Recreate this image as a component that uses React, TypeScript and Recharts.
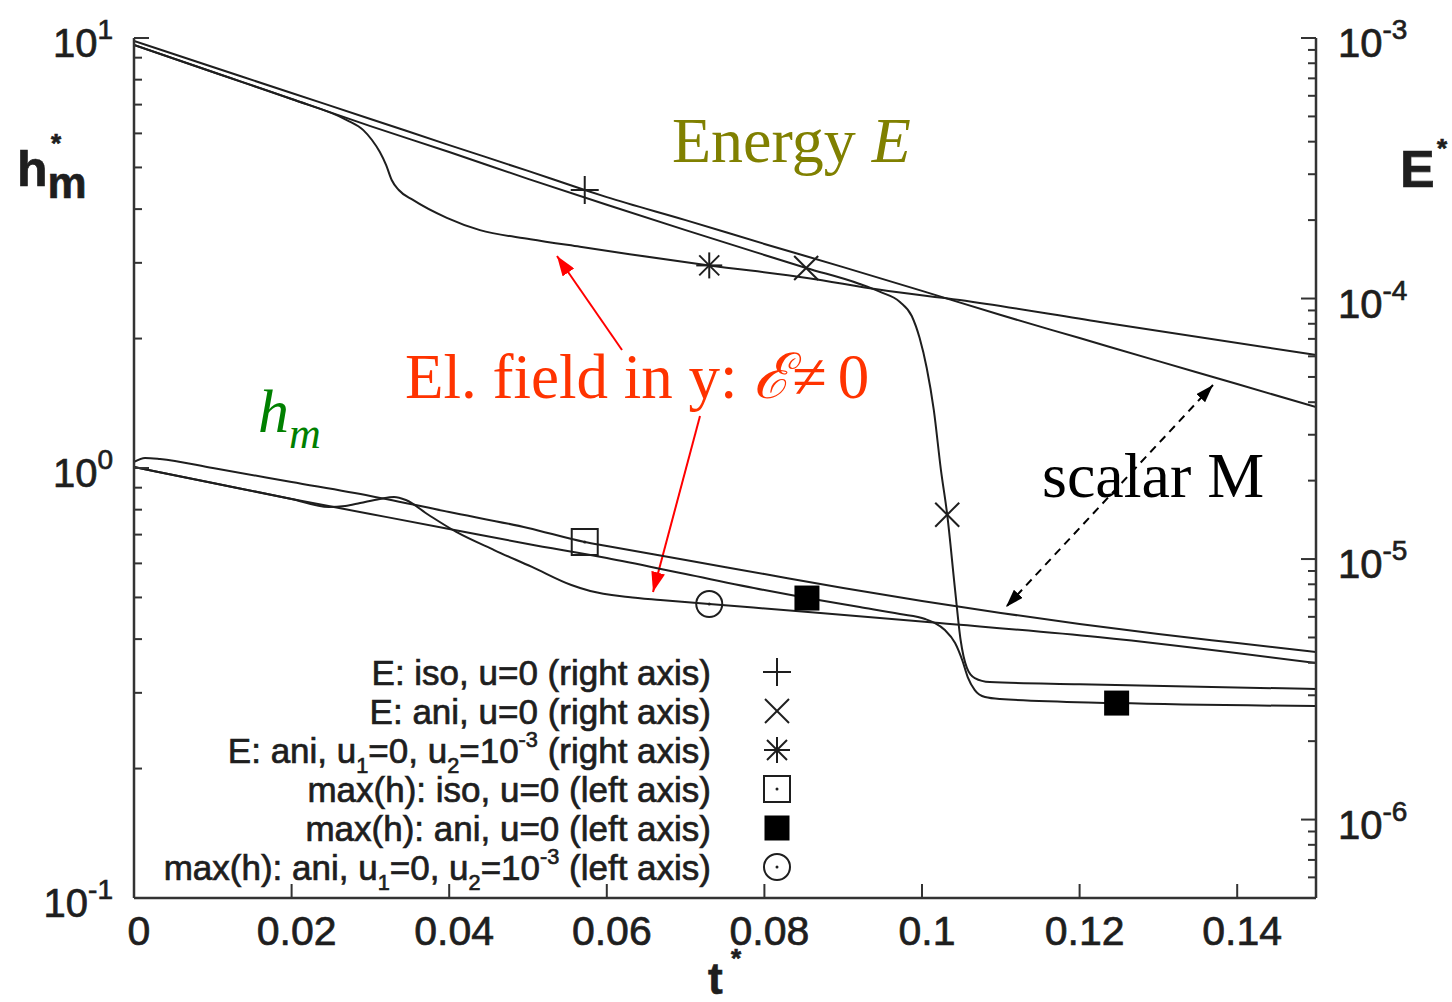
import React from 'react';
import { LineChart, Line, XAxis, YAxis, Customized } from 'recharts';

const W = 1452;
const H = 1002;
const SANS = 'Liberation Sans, Arial, Helvetica, sans-serif';
const SERIF = 'Liberation Serif, Times New Roman, serif';
const INK = '#1e1e1e';

// ---------- data (t*, value) ----------
// Energy, right axis
const tEIso = [0, 0.01, 0.02, 0.03, 0.04, 0.05, 0.0572, 0.06, 0.07, 0.08, 0.09, 0.1, 0.11, 0.12, 0.13, 0.14, 0.15];
const eIso = [9.74e-4, 7.74e-4, 6.15e-4, 4.89e-4, 3.88e-4, 3.09e-4, 2.61e-4, 2.45e-4, 2.0e-4, 1.62e-4, 1.32e-4, 1.07e-4, 8.64e-5, 7.05e-5, 5.75e-5, 4.7e-5, 3.83e-5];

const tEAni = [0, 0.01, 0.02, 0.03, 0.04, 0.05, 0.06, 0.07, 0.08, 0.0853, 0.092, 0.0947, 0.0972, 0.0987, 0.0997, 0.1006, 0.1015, 0.1024, 0.1032, 0.1042, 0.1049, 0.1057, 0.1067, 0.1086, 0.12, 0.15];
const eAni = [9.4e-4, 7.4e-4, 5.83e-4, 4.59e-4, 3.65e-4, 2.88e-4, 2.29e-4, 1.83e-4, 1.47e-4, 1.31e-4, 1.14e-4, 1.06e-4, 9.7e-5, 8.57e-5, 7.05e-5, 5.41e-5, 3.73e-5, 2.2e-5, 1.48e-5, 7.6e-6, 4.89e-6, 3.82e-6, 3.49e-6, 3.37e-6, 3.31e-6, 3.17e-6];

const tEAniU = [0, 0.01, 0.02, 0.027, 0.0291, 0.0302, 0.0312, 0.032, 0.0327, 0.0336, 0.0354, 0.0397, 0.0439, 0.0503, 0.0566, 0.0629, 0.073, 0.0854, 0.0947, 0.1048, 0.1226, 0.15];
const eAniU = [9.4e-4, 7.4e-4, 5.83e-4, 4.84e-4, 4.43e-4, 4.06e-4, 3.65e-4, 3.25e-4, 2.85e-4, 2.61e-4, 2.39e-4, 2.04e-4, 1.83e-4, 1.69e-4, 1.58e-4, 1.48e-4, 1.34e-4, 1.2e-4, 1.08e-4, 9.87e-5, 8.12e-5, 6.07e-5];

// max(h), left axis
const tHIso = [0, 0.0014, 0.0033, 0.01, 0.02, 0.03, 0.04, 0.05, 0.0572, 0.06, 0.07, 0.08, 0.09, 0.1, 0.11, 0.12, 0.13, 0.14, 0.15];
const hIso = [1.0327, 1.055, 1.0494, 1.0, 0.9278, 0.8608, 0.7902, 0.7254, 0.6728, 0.6586, 0.6111, 0.5667, 0.5258, 0.4905, 0.4601, 0.4338, 0.4111, 0.3917, 0.3733];

const tHAni = [0, 0.01, 0.02, 0.03, 0.04, 0.05, 0.06, 0.07, 0.08, 0.0854, 0.0921, 0.0972, 0.1004, 0.1016, 0.1029, 0.1042, 0.1051, 0.1058, 0.1067, 0.108, 0.1099, 0.1247, 0.15];
const hAni = [1.0054, 0.9229, 0.847, 0.7818, 0.7215, 0.6656, 0.6176, 0.5667, 0.5202, 0.4984, 0.4749, 0.4576, 0.4455, 0.4361, 0.42, 0.3917, 0.3577, 0.3265, 0.3045, 0.2933, 0.2902, 0.284, 0.2795];

const tHAniU = [0, 0.01, 0.02, 0.0247, 0.0268, 0.0287, 0.0312, 0.033, 0.0345, 0.0374, 0.0409, 0.0457, 0.0505, 0.0555, 0.0579, 0.0627, 0.0668, 0.073, 0.0871, 0.1022, 0.1223, 0.15];
const hAniU = [1.0054, 0.9229, 0.847, 0.8115, 0.8159, 0.829, 0.847, 0.8561, 0.8424, 0.7775, 0.71, 0.6445, 0.5887, 0.5343, 0.5174, 0.5012, 0.4932, 0.4828, 0.4601, 0.4361, 0.4046, 0.3519];

// points that carry a symbol
const markEIso = [0.0572];
const markEAni = [0.0853, 0.1032];
const markEAniU = [0.073];
const markHIso = [0.0572];
const markHAni = [0.0854, 0.1247];
const markHAniU = [0.073];

// ticks
const xTicks = [0, 0.02, 0.04, 0.06, 0.08, 0.1, 0.12, 0.14];
const xTickLabels = ['0', '0.02', '0.04', '0.06', '0.08', '0.1', '0.12', '0.14'];
const leftTicks = [0.1, 0.2, 0.3, 0.4, 0.5, 0.6, 0.7, 0.8, 0.9, 1, 2, 3, 4, 5, 6, 7, 8, 9, 10];
const rightTicks = [5e-7, 6e-7, 7e-7, 8e-7, 9e-7, 1e-6, 2e-6, 3e-6, 4e-6, 5e-6, 6e-6, 7e-6, 8e-6, 9e-6, 1e-5, 2e-5, 3e-5, 4e-5, 5e-5, 6e-5, 7e-5, 8e-5, 9e-5, 1e-4, 2e-4, 3e-4, 4e-4, 5e-4, 6e-4, 7e-4, 8e-4, 9e-4, 1e-3];

const legendLabels = [
  'E: iso, u=0 (right axis)',
  'E: ani, u=0 (right axis)',
  'E: ani, u_{1}=0, u_{2}=10^{-3} (right axis)',
  'max(h): iso, u=0 (left axis)',
  'max(h): ani, u=0 (left axis)',
  'max(h): ani, u_{1}=0, u_{2}=10^{-3} (left axis)',
];
const legendShapes = ['plus', 'cross', 'star', 'osq', 'fsq', 'ocirc'];

const zip = (ts: number[], vs: number[]) => ts.map((t, i) => ({ t, v: vs[i] }));

const series = [
  { key: 'eIso', data: zip(tEIso, eIso), axis: 'right', shape: 'plus', marks: markEIso },
  { key: 'eAni', data: zip(tEAni, eAni), axis: 'right', shape: 'cross', marks: markEAni },
  { key: 'eAniU', data: zip(tEAniU, eAniU), axis: 'right', shape: 'star', marks: markEAniU },
  { key: 'hIso', data: zip(tHIso, hIso), axis: 'left', shape: 'osq', marks: markHIso },
  { key: 'hAni', data: zip(tHAni, hAni), axis: 'left', shape: 'fsq', marks: markHAni },
  { key: 'hAniU', data: zip(tHAniU, hAniU), axis: 'left', shape: 'ocirc', marks: markHAniU },
];

// heavier sans text, like the reference's thick Helvetica
const sansInk = { fontFamily: SANS, fill: INK, stroke: INK, strokeWidth: 0.7 } as any;

// ---------- symbols ----------
function Symbol({ shape, cx, cy }: { shape: string; cx: number; cy: number }) {
  const p = { stroke: INK, strokeWidth: 2, fill: 'none' } as any;
  switch (shape) {
    case 'plus':
      return (
        <g {...p}>
          <line x1={cx - 14} y1={cy} x2={cx + 14} y2={cy} />
          <line x1={cx} y1={cy - 14} x2={cx} y2={cy + 14} />
        </g>
      );
    case 'cross':
      return (
        <g {...p}>
          <line x1={cx - 12} y1={cy - 12} x2={cx + 12} y2={cy + 12} />
          <line x1={cx - 12} y1={cy + 12} x2={cx + 12} y2={cy - 12} />
        </g>
      );
    case 'star':
      return (
        <g {...p}>
          <line x1={cx - 13} y1={cy} x2={cx + 13} y2={cy} />
          <line x1={cx} y1={cy - 13} x2={cx} y2={cy + 13} />
          <line x1={cx - 10} y1={cy - 10} x2={cx + 10} y2={cy + 10} />
          <line x1={cx - 10} y1={cy + 10} x2={cx + 10} y2={cy - 10} />
        </g>
      );
    case 'osq':
      return (
        <g>
          <rect x={cx - 13} y={cy - 13} width={26} height={26} {...p} />
          <circle cx={cx} cy={cy} r={1.5} fill={INK} />
        </g>
      );
    case 'fsq':
      return <rect x={cx - 12.5} y={cy - 12.5} width={25} height={25} fill="#000" />;
    case 'ocirc':
      return (
        <g>
          <circle cx={cx} cy={cy} r={13} {...p} />
          <circle cx={cx} cy={cy} r={1.5} fill={INK} />
        </g>
      );
    default:
      return <g />;
  }
}

const makeDot = (shape: string, marks: number[]) => (props: any) => {
  const { cx, cy, payload, index } = props;
  const hit = payload && marks.some((m) => Math.abs(m - payload.t) < 1e-9);
  if (!hit || cx == null || cy == null) return <g key={`n${index}`} />;
  return (
    <g key={`m${index}`}>
      <Symbol shape={shape} cx={cx} cy={cy} />
    </g>
  );
};

// ---------- ticks ----------
const isDecade = (v: number) => {
  const l = Math.log10(v);
  return Math.abs(l - Math.round(l)) < 1e-6;
};

const makeYTick = (side: 'left' | 'right', labels: boolean) => (props: any) => {
  const { x, y, payload } = props;
  const v = payload.value;
  const major = isDecade(v);
  const len = major ? 15 : 8;
  const dir = side === 'left' ? 1 : -1;
  const e = Math.round(Math.log10(v));
  return (
    <g>
      <line x1={x} y1={y} x2={x + dir * len} y2={y} stroke="#333" strokeWidth={2} />
      {labels && major && (
        <text
          x={side === 'left' ? x - 21 : x + 22}
          y={y + 19}
          textAnchor={side === 'left' ? 'end' : 'start'}
          fontSize={40}
          {...sansInk}
        >
          10
          <tspan dy={-18} fontSize={28}>
            {e}
          </tspan>
        </text>
      )}
    </g>
  );
};

const XTickBottom = (props: any) => {
  const { x, y, payload } = props;
  const i = xTicks.findIndex((t) => Math.abs(t - payload.value) < 1e-9);
  return (
    <g>
      <line x1={x} y1={y} x2={x} y2={y - 14} stroke="#333" strokeWidth={2} />
      <text x={x + 5} y={y + 47} textAnchor="middle" fontSize={41} {...sansInk}>
        {i >= 0 ? xTickLabels[i] : ''}
      </text>
    </g>
  );
};

const XTickTop = (props: any) => {
  const { x, y } = props;
  return <line x1={x} y1={y} x2={x} y2={y + 13} stroke="#333" strokeWidth={2} />;
};

// ---------- rich text ----------
function rich(str: string, size: number) {
  const parts: { t: string; k: string }[] = [];
  const re = /([_^])\{([^}]*)\}/g;
  let last = 0;
  let m: RegExpExecArray | null;
  while ((m = re.exec(str))) {
    if (m.index > last) parts.push({ t: str.slice(last, m.index), k: 'n' });
    parts.push({ t: m[2], k: m[1] === '_' ? 'sub' : 'sup' });
    last = re.lastIndex;
  }
  if (last < str.length) parts.push({ t: str.slice(last), k: 'n' });
  let cur = 0;
  return parts.map((p, i) => {
    const target = p.k === 'sub' ? size * 0.28 : p.k === 'sup' ? -size * 0.45 : 0;
    const dy = target - cur;
    cur = target;
    return (
      <tspan key={i} dy={dy} fontSize={p.k === 'n' ? size : size * 0.62}>
        {p.t}
      </tspan>
    );
  });
}

// ---------- overlay: legend, titles, annotations ----------
function Overlay() {
  const rowY = [672, 711, 750, 789, 828, 867];
  return (
    <g>
      <defs>
        <marker id="arRed" viewBox="0 0 20 14" markerWidth={20} markerHeight={14} refX={20} refY={7} orient="auto" markerUnits="userSpaceOnUse">
          <path d="M0,0 L20,7 L0,14 z" fill="#ff0000" />
        </marker>
        <marker id="arBlk" viewBox="0 0 18 12" markerWidth={18} markerHeight={12} refX={18} refY={6} orient="auto-start-reverse" markerUnits="userSpaceOnUse">
          <path d="M0,0 L18,6 L0,12 z" fill="#000" />
        </marker>
      </defs>

      {/* legend */}
      {legendLabels.map((lab, i) => (
        <g key={lab}>
          <text x={711} y={rowY[i] + 13} textAnchor="end" fontSize={35} {...sansInk}>
            {rich(lab, 35)}
          </text>
          <Symbol shape={legendShapes[i]} cx={777} cy={rowY[i]} />
        </g>
      ))}

      {/* axis titles */}
      <text x={17} y={186} fontWeight="bold" fontSize={50} {...sansInk}>
        h<tspan dy={12} fontSize={44}>m</tspan>
      </text>
      <text x={51} y={152} fontWeight="bold" fontSize={26} {...sansInk}>*</text>
      <text x={1400} y={187} fontWeight="bold" fontSize={52} {...sansInk}>E</text>
      <text x={1437} y={157} fontWeight="bold" fontSize={26} {...sansInk}>*</text>
      <text x={708} y={994} fontWeight="bold" fontSize={44} {...sansInk}>t</text>
      <text x={731} y={967} fontWeight="bold" fontSize={26} {...sansInk}>*</text>

      {/* annotations */}
      <line x1={622} y1={350} x2={557} y2={256} stroke="#ff0000" strokeWidth={2} markerEnd="url(#arRed)" />
      <line x1={700} y1={416} x2={653} y2={592} stroke="#ff0000" strokeWidth={2} markerEnd="url(#arRed)" />
      <line x1={1213} y1={385} x2={1006} y2={607} stroke="#000" strokeWidth={2} strokeDasharray="8 6" markerStart="url(#arBlk)" markerEnd="url(#arBlk)" />

      <text x={672} y={162} fontFamily={SERIF} fontSize={64} fill="#808000">
        Energy <tspan fontStyle="italic">E</tspan>
      </text>
      <text x={405} y={398} fontFamily={SERIF} fontSize={63} fill="#ff3300">
        El. field in y: <tspan fontStyle="italic">ℰ≠</tspan>
        <tspan dx={12}>0</tspan>
      </text>
      <text x={258} y={432} fontFamily={SERIF} fontSize={62} fill="#008000" fontStyle="italic">
        h<tspan dy={16} fontSize={44}>m</tspan>
      </text>
      <text x={1042} y={497} fontFamily={SERIF} fontSize={64} fill="#000">
        scalar M
      </text>
    </g>
  );
}

export default function App() {
  return (
    <div style={{ position: 'absolute', left: 0, top: 0, width: W, height: H, background: '#fff' }}>
      <LineChart width={W} height={H} margin={{ top: 38, right: 36, bottom: 44, left: 34 }}>
        <XAxis
          xAxisId="bottom"
          dataKey="t"
          type="number"
          domain={[0, 0.15]}
          allowDataOverflow
          ticks={xTicks}
          interval={0}
          height={60}
          tickSize={0}
          tickMargin={0}
          tickLine={false}
          axisLine={{ stroke: '#333', strokeWidth: 2.5 }}
          tick={XTickBottom}
        />
        <XAxis
          xAxisId="top"
          orientation="top"
          dataKey="t"
          type="number"
          domain={[0, 0.15]}
          allowDataOverflow
          ticks={xTicks}
          interval={0}
          height={0}
          tickSize={0}
          tickMargin={0}
          tickLine={false}
          axisLine={{ stroke: '#333', strokeWidth: 2.5 }}
          tick={XTickTop}
        />
        <YAxis
          yAxisId="left"
          orientation="left"
          scale="log"
          type="number"
          domain={[0.1, 10]}
          allowDataOverflow
          ticks={leftTicks}
          interval={0}
          width={100}
          tickSize={0}
          tickMargin={0}
          tickLine={false}
          axisLine={{ stroke: '#333', strokeWidth: 2.5 }}
          tick={makeYTick('left', true)}
        />
        <YAxis
          yAxisId="leftMirror"
          orientation="right"
          mirror
          scale="log"
          type="number"
          domain={[0.1, 10]}
          allowDataOverflow
          ticks={leftTicks}
          interval={0}
          width={0}
          tickSize={0}
          tickMargin={0}
          tickLine={false}
          axisLine={false}
          tick={makeYTick('right', false)}
        />
        <YAxis
          yAxisId="right"
          orientation="right"
          scale="log"
          type="number"
          domain={[5e-7, 1e-3]}
          allowDataOverflow
          ticks={rightTicks}
          interval={0}
          width={100}
          tickSize={0}
          tickMargin={0}
          tickLine={false}
          axisLine={{ stroke: '#333', strokeWidth: 2.5 }}
          tick={makeYTick('right', true)}
        />
        {series.map((s) => (
          <Line
            key={s.key}
            data={s.data}
            dataKey="v"
            xAxisId="bottom"
            yAxisId={s.axis}
            type="monotone"
            stroke={INK}
            strokeWidth={2}
            dot={makeDot(s.shape, s.marks)}
            activeDot={false}
            isAnimationActive={false}
          />
        ))}
        <Customized component={Overlay} />
      </LineChart>
    </div>
  );
}
